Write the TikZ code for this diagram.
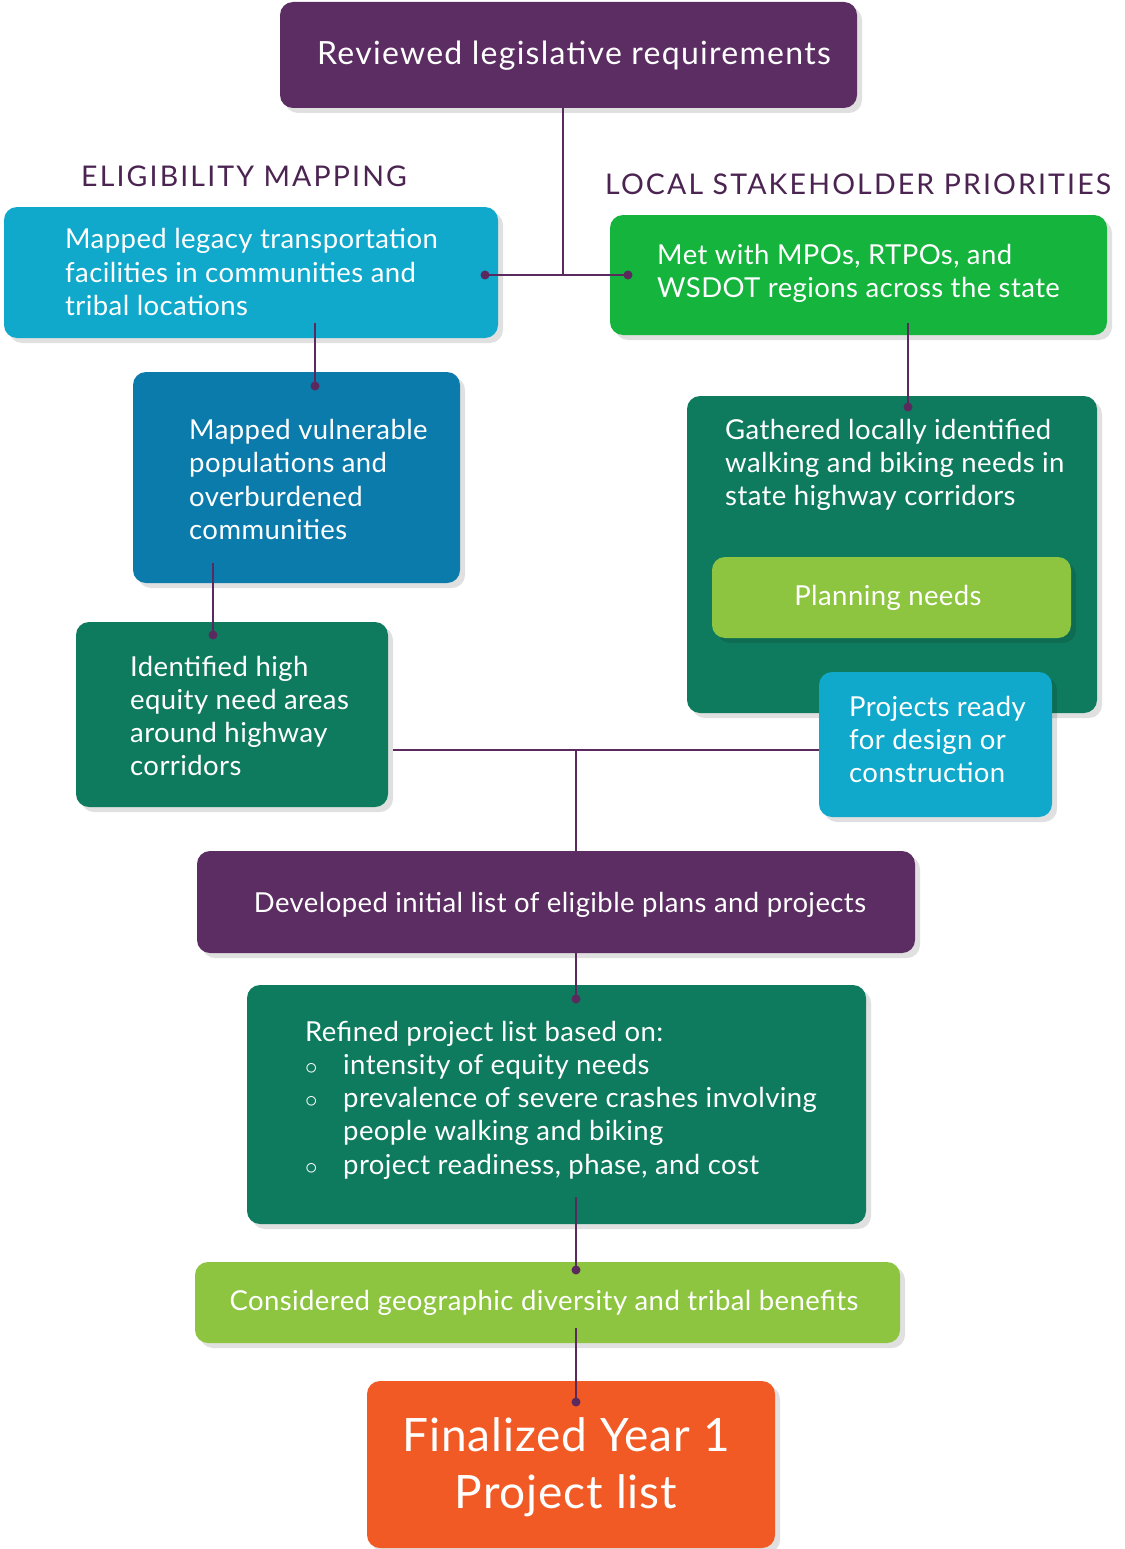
\documentclass[tikz,border=0pt]{standalone}
\usepackage{fontspec}
\setmainfont{Lato}
\usetikzlibrary{shadows}
\definecolor{cPurple}{HTML}{5C2D62}
\definecolor{cCyan}{HTML}{10A9CC}
\definecolor{cGreen}{HTML}{14B43D}
\definecolor{cBlue}{HTML}{0B7BAB}
\definecolor{cDark}{HTML}{0F7B5E}
\definecolor{cLime}{HTML}{8DC540}
\definecolor{cOrange}{HTML}{F15A24}
\definecolor{cLine}{HTML}{5A2A5E}
\definecolor{cHead}{HTML}{4B2452}
\begin{document}
\begin{tikzpicture}[x=1pt,y=-1pt,
  box/.style={rounded corners=13pt, fill=#1, draw=none, inner sep=0pt,
    drop shadow={shadow xshift=5pt, shadow yshift=-5pt, fill=black, opacity=0.12}},
  txt/.style={text=white, inner sep=0pt, align=left,
    font=\fontsize{27.5}{33.2}\selectfont\addfontfeature{LetterSpace=1.5}},
  head/.style={text=cHead, inner sep=0pt,
    font=\fontsize{28.5}{32}\selectfont\addfontfeature{LetterSpace=7.5}},
  conn/.style={draw=cLine, line width=2.3pt},
  dot/.style={circle, fill=cLine, inner sep=0pt, minimum size=9pt}
]
\useasboundingbox[fill=white] (0,0) rectangle (1124,1549);

% boxes
\node[box=cPurple, minimum width=577pt, minimum height=106pt] (top) at (568.5,55) {};
\node[box=cCyan, minimum width=494pt, minimum height=131pt] (legacy) at (251,272.5) {};
\node[box=cGreen, minimum width=497pt, minimum height=120pt] (mpo) at (858.5,275) {};
\node[box=cBlue, minimum width=327pt, minimum height=211pt] (vuln) at (296.5,477.5) {};
\node[box=cDark, minimum width=312pt, minimum height=185pt] (ident) at (232,714.5) {};
\node[box=cDark, minimum width=410pt, minimum height=317pt] (gath) at (892,554.5) {};
\node[box=cLime, minimum width=359pt, minimum height=81pt] (plan) at (891.5,597.5) {};
\node[box=cCyan, minimum width=233pt, minimum height=145pt] (proj) at (935.5,744.5) {};
\node[box=cPurple, minimum width=718pt, minimum height=102pt] (dev) at (556,902) {};
\node[box=cDark, minimum width=619pt, minimum height=239pt] (ref) at (556.5,1104.5) {};
\node[box=cLime, minimum width=705pt, minimum height=81pt] (cons) at (547.5,1302.5) {};
\node[box=cOrange, minimum width=408pt, minimum height=167pt] (fin) at (571,1464.5) {};

% headings
\node[head, anchor=base west] (hElig) at (81,187) {ELIGIBILITY MAPPING};
\node[head, anchor=base west] (hLocal) at (605,195) {LOCAL STAKEHOLDER PRIORITIES};

% texts
\node[txt, anchor=base, font=\fontsize{32}{36}\selectfont\addfontfeature{LetterSpace=4}] (topT) at (574,65) {Reviewed legislative requirements};
\node[txt, anchor=west] (legacyT) at (65,272) {Mapped legacy transportation\\facilities in communities and\\tribal locations};
\node[txt, anchor=west] (mpoT) at (657,273.5) {Met with MPOs, RTPOs, and\\WSDOT regions across the state};
\node[txt, anchor=west] (vulnT) at (189,479.5) {Mapped vulnerable\\populations and\\overburdened\\communities};
\node[txt, anchor=west] (identT) at (130,716) {Identified high\\equity need areas\\around highway\\corridors};
\node[txt, anchor=west] (gathT) at (725,465) {Gathered locally identified\\walking and biking needs in\\state highway corridors};
\node[txt, anchor=base] (planT) at (888,605) {Planning needs};
\node[txt, anchor=west] (projT) at (849,739.5) {Projects ready\\for design or\\construction};
\node[txt, anchor=base] (devT) at (560,912) {Developed initial list of eligible plans and projects};
\node[txt, anchor=west] (refT) at (305,1100) {Refined project list based on:\\
\makebox[38pt][l]{$\circ$}intensity of equity needs\\
\makebox[38pt][l]{$\circ$}prevalence of severe crashes involving\\
\hspace*{38pt}people walking and biking\\
\makebox[38pt][l]{$\circ$}project readiness, phase, and cost};
\node[txt, anchor=base] (consT) at (544,1310) {Considered geographic diversity and tribal benefits};
\node[txt, align=center, font=\fontsize{46}{57}\selectfont\addfontfeature{LetterSpace=2}] (finT) at (566,1467) {Finalized Year 1\\Project list};

% connectors
\node[dot] (d1) at (485,275) {};
\node[dot] (d2) at (628,275) {};
\coordinate (j1) at (563,275);
\draw[conn] (d1.center) -- (d2.center);
\draw[conn] (top.south -| j1) -- (j1);

\node[dot] (d3) at (315,386) {};
\draw[conn] ([yshift=15pt]legacy.south -| d3) -- (d3.center);

\node[dot] (d4) at (213,635) {};
\draw[conn] ([yshift=20pt]vuln.south -| d4) -- (d4.center);

\node[dot] (d5) at (908,407) {};
\draw[conn] ([yshift=12pt]mpo.south -| d5) -- (d5.center);

\coordinate (j2) at (576,750);
\draw[conn] ([xshift=5pt]ident.east |- j2) -- (proj.west |- j2);
\draw[conn] (j2) -- (dev.north -| j2);

\node[dot] (d6) at (576,999) {};
\draw[conn] (dev.south -| d6) -- (d6.center);

\node[dot] (d7) at (576,1270) {};
\draw[conn] ([yshift=27pt]ref.south -| d7) -- (d7.center);

\node[dot] (d8) at (576,1402) {};
\draw[conn] ([yshift=15pt]cons.south -| d8) -- (d8.center);
\end{tikzpicture}
\end{document}
